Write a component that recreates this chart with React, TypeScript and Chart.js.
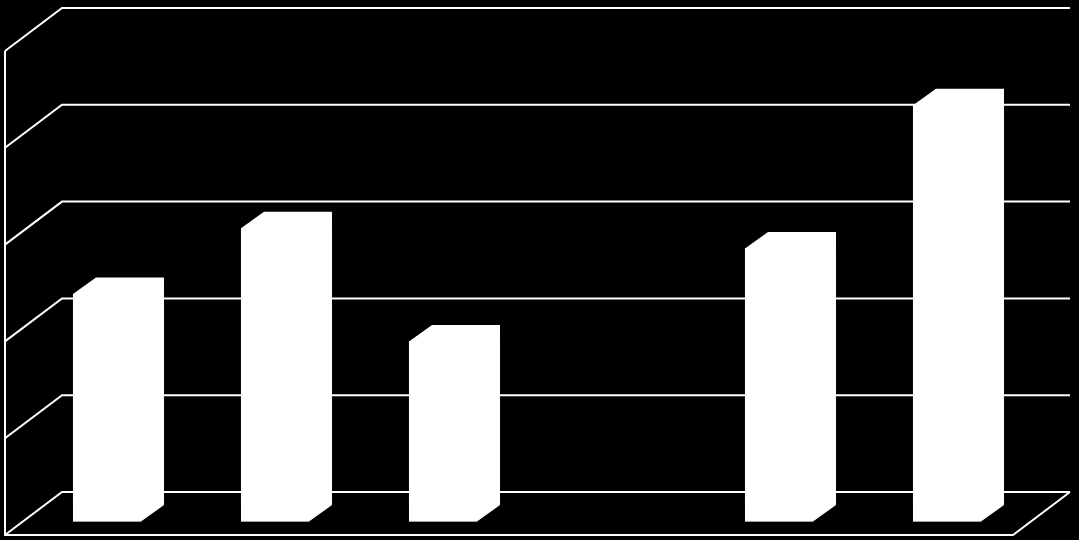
import Chart from 'chart.js/auto';
import { useEffect, useRef } from 'react';

// data (no labels are shown in the original)
const categories = ['1', '2', '3', '4', '5', '6'];
const values = [2.35, 3.03, 1.86, 0, 2.82, 4.3];
const gridTicks = [0, 1, 2, 3, 4, 5];

// oblique offsets relative to the bar front plane (= chart area)
const BACK_DX = 39;
const BACK_DY = -29.5;
const FRONT_DX = -18;
const FRONT_DY = 13.5;
const BAR_DX = 23;
const BAR_DY = 16.5;

const depthPlugin = {
  id: 'depth3d',
  beforeDatasetsDraw(chart: any) {
    const { ctx, chartArea } = chart;
    const y = chart.scales.y;
    const bx0 = chartArea.left + BACK_DX;
    const bx1 = chartArea.right + BACK_DX;
    const fx0 = chartArea.left + FRONT_DX;
    const fx1 = chartArea.right + FRONT_DX;
    const zero = y.getPixelForValue(0);
    const top = y.getPixelForValue(gridTicks[gridTicks.length - 1]);

    ctx.save();
    ctx.strokeStyle = '#ffffff';
    ctx.lineWidth = 2;
    ctx.beginPath();
    gridTicks.forEach((v) => {
      const py = y.getPixelForValue(v);
      ctx.moveTo(fx0, py + FRONT_DY);
      ctx.lineTo(bx0, py + BACK_DY);
      ctx.lineTo(bx1, py + BACK_DY);
    });
    // left edge of the side wall
    ctx.moveTo(fx0, top + FRONT_DY);
    ctx.lineTo(fx0, zero + FRONT_DY);
    // floor front edge and right edge
    ctx.lineTo(fx1, zero + FRONT_DY);
    ctx.lineTo(bx1, zero + BACK_DY);
    ctx.stroke();
    ctx.restore();
  },
  afterDatasetsDraw(chart: any) {
    const { ctx } = chart;
    const meta = chart.getDatasetMeta(0);
    ctx.save();
    ctx.fillStyle = '#ffffff';
    meta.data.forEach((bar: any, i: number) => {
      if (!values[i]) return;
      const { x, y, base, width } = bar.getProps(['x', 'y', 'base', 'width'], true);
      const l = x - width / 2;
      const r = x + width / 2;
      // whole silhouette (front + top + side) in one fill, so no seams
      ctx.beginPath();
      ctx.moveTo(l, base);
      ctx.lineTo(l, y);
      ctx.lineTo(l + BAR_DX, y - BAR_DY);
      ctx.lineTo(r + BAR_DX, y - BAR_DY);
      ctx.lineTo(r + BAR_DX, base - BAR_DY);
      ctx.lineTo(r, base);
      ctx.closePath();
      ctx.fill();
    });
    ctx.restore();
  },
};

const App = () => {
  const chartRef = useRef<HTMLCanvasElement | null>(null);

  useEffect(() => {
    if (!chartRef.current) return;
    const context = chartRef.current.getContext('2d');
    if (!context) return;

    const myChart = new Chart(context, {
      type: 'bar',
      data: {
        labels: categories,
        datasets: [
          {
            data: values,
            backgroundColor: '#ffffff',
            borderWidth: 0,
            categoryPercentage: 1,
            barPercentage: 0.405,
          },
        ],
      },
      options: {
        animation: false,
        responsive: true,
        maintainAspectRatio: false,
        layout: { padding: { left: 23, right: 48, top: 37.5, bottom: 18.5 } },
        scales: {
          x: { display: false },
          y: { display: false, min: 0, max: 5 },
        },
        plugins: {
          legend: { display: false },
          tooltip: { enabled: false },
        },
      },
      plugins: [depthPlugin],
    });

    return () => myChart.destroy();
  }, []);

  return (
    <div style={{ position: 'fixed', left: 0, top: 0, width: 1079, height: 540, background: '#000' }}>
      <canvas ref={chartRef} />
    </div>
  );
};

export default App;
